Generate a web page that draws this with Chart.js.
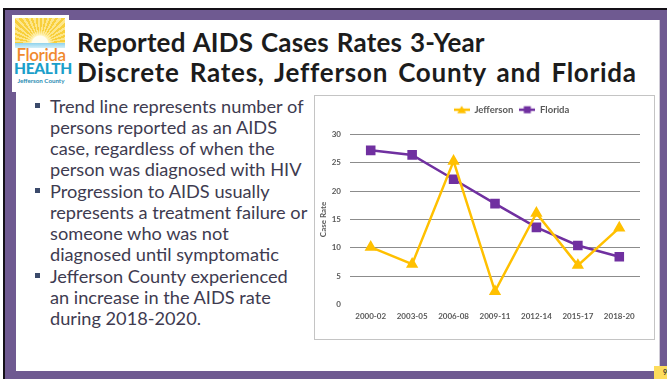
<!DOCTYPE html>
<html><head><meta charset="utf-8">
<script src="https://cdn.jsdelivr.net/npm/chart.js@4"></script>
<style>
html,body{margin:0;padding:0;width:667px;height:379px;overflow:hidden;background:#fff;font-family:Lato,"Open Sans",sans-serif;}
.abs{position:absolute;}
#blk{left:3px;top:8px;right:0;bottom:0;background:#141018;}
#pur{left:5px;top:10px;right:0;bottom:0;background:#6f5a91;}
#slide{left:16px;top:20px;width:643px;height:351px;background:#fff;border-right:1px solid #cfcbd6;}
#logo{left:12px;top:15px;width:57px;height:77px;background:#fff;}
#rays{left:15px;top:18px;width:50px;height:26px;
 background:radial-gradient(circle at 50% 100%, #fffdf0 0 8px, #fff3b8 9px, transparent 14px),
 repeating-conic-gradient(from -90deg at 50% 100%, #f8cf3c 0 5deg, #fde68a 5deg 10deg);}
#water{left:15px;top:43px;width:50px;height:5px;background:linear-gradient(#8fd2ec,#d3eff8);}
#fl{left:14px;top:44px;width:54px;font:600 17px Lato,sans-serif;color:#f08a2e;letter-spacing:-0.4px;text-align:center;}
#hl{left:14px;top:59px;width:54px;font:900 15.5px Lato,sans-serif;color:#1b9fca;text-align:center;letter-spacing:-0.3px;}
#jc{left:14px;top:77px;width:54px;font:700 6.2px Lato,sans-serif;color:#2b8db3;text-align:center;}
#title{left:77px;top:27px;font:700 26px Lato,sans-serif;line-height:30px;color:#1c1c1c;white-space:nowrap;}
#t1{letter-spacing:0.15px;word-spacing:1.5px;}
#t2{letter-spacing:0.75px;word-spacing:3px;}
#bul{left:50px;top:96px;width:265px;font:400 18.2px Lato,sans-serif;line-height:20.9px;color:#3e3b50;white-space:nowrap;}
#bul p{margin:0 0 1.5px 0;position:relative;}
#bul p::before{content:"";position:absolute;left:-15px;top:7px;width:5px;height:5px;background:#3b4a6b;}
#num{left:654px;top:366px;width:13px;height:13px;background:#fddc5c;overflow:hidden;}
#num span{position:absolute;left:9px;top:2px;font:700 7px Lato,sans-serif;color:#333;}
#box{left:314px;top:95px;width:341px;height:245px;border:1px solid #c4c4c4;box-sizing:border-box;background:#fff;}
#c{position:absolute;left:315px;top:96px;}
</style></head>
<body>
<div id="blk" class="abs"></div>
<div id="pur" class="abs"></div>
<div id="slide" class="abs"></div>
<div id="logo" class="abs"></div>
<div id="rays" class="abs"></div>
<div id="water" class="abs"></div>
<div id="fl" class="abs">Florida</div>
<div id="hl" class="abs">HEALTH</div>
<div id="jc" class="abs">Jefferson County</div>
<div id="title" class="abs"><span id="t1">Reported AIDS Cases Rates 3-Year</span><br><span id="t2">Discrete Rates, Jefferson County and Florida</span></div>
<div id="bul" class="abs">
<p>Trend line represents number of<br>persons reported as an AIDS<br>case, regardless of when the<br>person was diagnosed with HIV</p>
<p>Progression to AIDS usually<br>represents a treatment failure or<br>someone who was not<br>diagnosed until symptomatic</p>
<p>Jefferson County experienced<br>an increase in the AIDS rate<br>during 2018-2020.</p>
</div>
<div id="num" class="abs"><span>9</span></div>
<div id="box" class="abs"></div>
<canvas id="c" width="339" height="243"></canvas>
<script>
const categories = ['2000-02','2003-05','2006-08','2009-11','2012-14','2015-17','2018-20'];
const jefferson = [10.1, 7.1, 25.3, 2.3, 16.1, 6.9, 13.5];
const florida = [27.2, 26.4, 22.1, 17.8, 13.6, 10.4, 8.4];
const yMin = 0, yMax = 30, yStep = 5;
const seriesNames = ['Jefferson', 'Florida'];
const seriesColors = ['#FFC000', '#7030A0'];

function legendIcon(color, shape){
  const cv = document.createElement('canvas');
  cv.width = 16; cv.height = 10;
  const g = cv.getContext('2d');
  g.strokeStyle = color; g.lineWidth = 2.5;
  g.beginPath(); g.moveTo(0,5); g.lineTo(16,5); g.stroke();
  g.fillStyle = color;
  if (shape === 'triangle'){
    g.beginPath(); g.moveTo(8,1); g.lineTo(12.5,8.5); g.lineTo(3.5,8.5); g.closePath(); g.fill();
  } else {
    g.fillRect(4.5,1.5,7,7);
  }
  return cv;
}
const icons = [legendIcon(seriesColors[0],'triangle'), legendIcon(seriesColors[1],'rect')];

const tickColor = '#595959';
const shiftLegend = {
  id:'shiftLegend',
  afterInit(chart){
    const lg = chart.legend; const f = lg.fit;
    lg.fit = function(){ f.call(this); this.height += 12; };
  },
  afterLayout(chart){
    const lg = chart.legend; const dx = 34;
    lg.left += dx; lg.right += dx; lg.top += 2; lg.bottom += 2;
  }
};

new Chart(document.getElementById('c'), {
  type:'line',
  data:{
    labels: categories,
    datasets:[
      {label:seriesNames[0], data:jefferson, borderColor:seriesColors[0], backgroundColor:seriesColors[0],
       borderWidth:2.5, pointStyle:'triangle', pointRadius:4.6, pointBackgroundColor:seriesColors[0], pointBorderColor:seriesColors[0], tension:0},
      {label:seriesNames[1], data:florida, borderColor:seriesColors[1], backgroundColor:seriesColors[1],
       borderWidth:2.5, pointStyle:'rect', pointRadius:5, pointBackgroundColor:seriesColors[1], pointBorderColor:seriesColors[1], tension:0}
    ]
  },
  options:{
    responsive:false, animation:false, devicePixelRatio:1,
    layout:{padding:{left:0,right:14,top:1,bottom:19}},
    plugins:{
      tooltip:{enabled:false},
      legend:{position:'top', align:'center',
        labels:{usePointStyle:true, pointStyleWidth:16, padding:6, color:tickColor,
          font:{family:'Lato, sans-serif', size:9.5, weight:'bold'},
          generateLabels(chart){
            const items = Chart.defaults.plugins.legend.labels.generateLabels(chart);
            items.forEach((it,i)=>{ it.pointStyle = icons[i]; });
            return items;
          }}}
    },
    scales:{
      x:{offset:true, grid:{display:false}, border:{display:false},
        ticks:{color:tickColor, padding:-1, maxRotation:0, font:{family:'Lato, sans-serif', size:8, weight:'bold'}}},
      y:{min:yMin, max:yMax, border:{display:false},
        grid:{color:(ctx)=> ctx.tick && ctx.tick.value === 0 ? 'rgba(0,0,0,0)' : '#8c8c8c', lineWidth:1, drawTicks:false},
        ticks:{stepSize:yStep, color:tickColor, padding:9, font:{family:'Lato, sans-serif', size:8, weight:'bold'}},
        title:{display:true, text:'Case Rate', color:tickColor, padding:{top:4,bottom:0}, font:{family:'Lato, sans-serif', size:8, weight:'bold'}},
        afterFit(s){ s.width = 35; }}
    }
  },
  plugins:[shiftLegend]
});
</script>
</body></html>
